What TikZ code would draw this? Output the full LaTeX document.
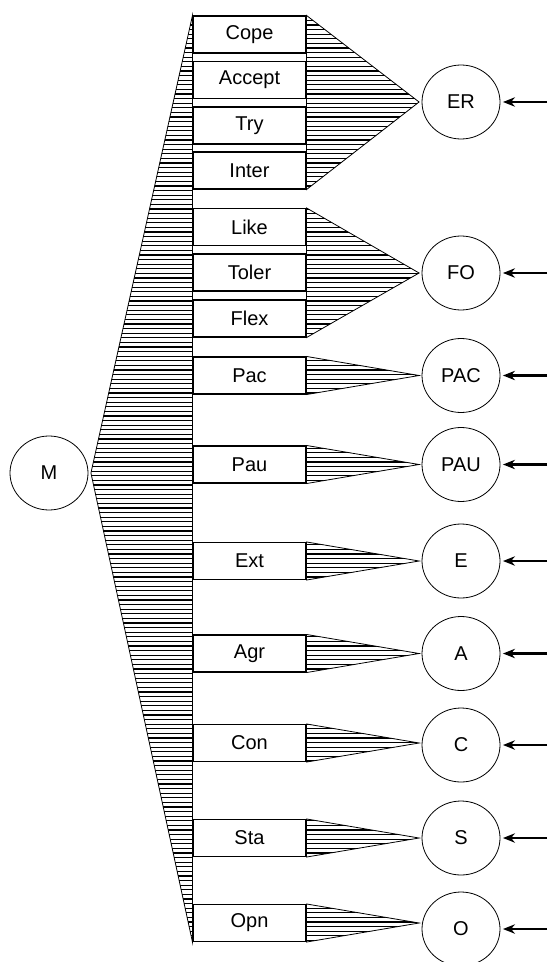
\documentclass[tikz,border=0pt]{standalone}
\usepackage{fontspec}
\setmainfont{Liberation Sans}
\usetikzlibrary{shapes.geometric,arrows.meta,backgrounds}
\newcommand{\hatched}[1]{%
    \begin{scope}
        \clip #1;
        \foreach \y in {2,6.6,...,962}
            \draw[line width=0.95pt] (0,\y) -- (547,\y);
    \end{scope}
    \draw[line width=0.6pt] #1;}

\begin{document}
\begin{tikzpicture}[x=0.75pt,y=-0.75pt,
    item/.style={draw,line width=0.8pt,fill=white,minimum width=84.75pt,minimum height=27.75pt,inner sep=0pt,font=\fontsize{15}{17}\selectfont},
    factor/.style={draw,ellipse,line width=0.6pt,minimum width=58.5pt,minimum height=55.5pt,inner sep=0pt,outer sep=2.2pt,font=\fontsize{15}{17}\selectfont},
    cause/.style={line width=1.6pt,-{Stealth[length=9pt,width=7pt]}}]
    \useasboundingbox (0,0) rectangle (547,962);
    \coordinate (edge) at (547,0);

    % general factor
    \node[factor] (M) at (49,473) {M};

    % indicators
    \node[item] (cope) at (249.5,34.5) {Cope};
    \node[item] (accept) at (249.5,80) {Accept};
    \node[item] (try) at (249.5,125.5) {Try};
    \node[item] (inter) at (249.5,170.5) {Inter};
    \node[item] (like) at (249.5,227) {Like};
    \node[item] (toler) at (249.5,272.5) {Toler};
    \node[item] (flex) at (249.5,318.5) {Flex};
    \node[item] (pac) at (249.5,375.5) {Pac};
    \node[item] (pau) at (249.5,464.5) {Pau};
    \node[item] (ext) at (249.5,561) {Ext};
    \node[item] (agr) at (249.5,653.5) {Agr};
    \node[item] (con) at (249.5,743) {Con};
    \node[item] (sta) at (249.5,838) {Sta};
    \node[item] (opn) at (249.5,923) {Opn};

    % specific factors
    \node[factor] (ER) at (461,102) {ER};
    \node[factor] (FO) at (461,273) {FO};
    \node[factor] (PAC) at (461,375.5) {PAC};
    \node[factor] (PAU) at (461,464.5) {PAU};
    \node[factor] (E) at (461,561) {E};
    \node[factor] (A) at (461,653.5) {A};
    \node[factor] (C) at (461,745) {C};
    \node[factor] (S) at (461,838) {S};
    \node[factor] (O) at (461,929) {O};

    % loadings, behind the boxes
    \begin{scope}[on background layer]
        \hatched{(M.east) -- (cope.north west) -- (opn.south west) -- cycle}
        \hatched{(cope.north east) -- (ER.west) -- (inter.south east) -- cycle}
        \hatched{(like.north east) -- (FO.west) -- (flex.south east) -- cycle}
        \hatched{(pac.north east) -- (PAC.west |- pac) -- (pac.south east) -- cycle}
        \hatched{(pau.north east) -- (PAU.west |- pau) -- (pau.south east) -- cycle}
        \hatched{(ext.north east) -- (E.west |- ext) -- (ext.south east) -- cycle}
        \hatched{(agr.north east) -- (A.west |- agr) -- (agr.south east) -- cycle}
        \hatched{(con.north east) -- (C.west |- con) -- (con.south east) -- cycle}
        \hatched{(sta.north east) -- (S.west |- sta) -- (sta.south east) -- cycle}
        \hatched{(opn.north east) -- (O.west |- opn) -- (opn.south east) -- cycle}
    \end{scope}

    % residuals
    \foreach \f in {ER,FO,PAC,PAU,E,A,C,S,O}
        \draw[cause] (edge |- \f) -- (\f);
\end{tikzpicture}
\end{document}
